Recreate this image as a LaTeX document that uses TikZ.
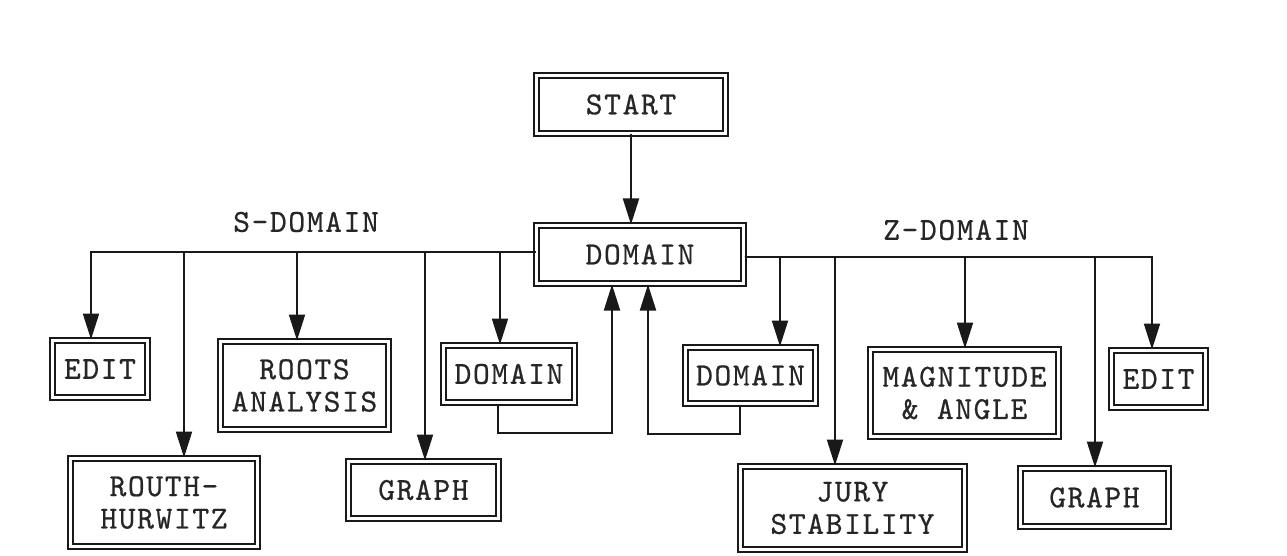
\documentclass[tikz,border=0pt]{standalone}
\usepackage{fontspec}
\usetikzlibrary{arrows.meta,calc}
\newfontfamily\courfont{lmmono10-regular.otf}[LetterSpace=5,FakeBold=0.6]
\newcommand{\boxfont}{\courfont\fontsize{16pt}{16.2pt}\selectfont}
\tikzset{
 box/.style={draw=black!90, double=white, double distance=1.5pt, line width=1pt, inner sep=0pt, align=center, font=\boxfont, text=black!85},
 conn/.style={draw=black!90, line width=1pt},
 arr/.style={conn, -{Triangle[length=13pt,width=8pt]}},
 lbl/.style={font=\boxfont, text=black!85, inner sep=0pt},
}
\begin{document}
\begin{tikzpicture}[x=0.5pt,y=-0.5pt]
\useasboundingbox (0,0) rectangle (1287,556);
\fill[white] (0,0) rectangle (1287,556);
% boxes
\node[box, minimum width=94.5pt, minimum height=29pt] (start) at (631,104.5) {START};
\node[box, minimum width=103.5pt, minimum height=29pt] (dom) at (640,254.5) {DOMAIN};
\node[box, minimum width=47.5pt, minimum height=28.5pt] (edits) at (100,369) {EDIT};
\node[box, minimum width=84pt, minimum height=44pt] (roots) at (304.5,385.5) {ROOTS\\ANALYSIS};
\node[box, minimum width=93.5pt, minimum height=44pt] (routh) at (164,502.5) {ROUTH-\\HURWITZ};
\node[box, minimum width=75pt, minimum height=28.5pt] (graphs) at (423.5,490) {GRAPH};
\node[box, minimum width=65.5pt, minimum height=28.5pt] (doms) at (509,374) {DOMAIN};
\node[box, minimum width=65pt, minimum height=28pt] (domz) at (750.5,375.5) {DOMAIN};
\node[box, minimum width=112pt, minimum height=41.5pt] (jury) at (852.5,508) {JURY\\STABILITY};
\node[box, minimum width=94pt, minimum height=43.5pt] (mag) at (964.5,393) {MAGNITUDE\\\& ANGLE};
\node[box, minimum width=47pt, minimum height=28.5pt] (editz) at (1158.5,379) {EDIT};
\node[box, minimum width=74pt, minimum height=29pt] (graphz) at (1094.5,497.5) {GRAPH};
% labels
\node[lbl] (slab) at (306,222) {S-DOMAIN};
\node[lbl] (zlab) at (956,230) {Z-DOMAIN};
% bus levels
\coordinate (lbus) at (0,252);
\coordinate (rbus) at (0,257);
\coordinate (l1) at (0,433);
\coordinate (l2) at (0,434);
% drop points
\coordinate (d1) at ($(edits.north)+(-9,0)$);
\coordinate (d2) at ($(routh.north)+(20,0)$);
\coordinate (d3) at ($(roots.north)+(-7.5,0)$);
\coordinate (d4) at ($(graphs.north)+(1.5,0)$);
\coordinate (d5) at ($(doms.north)+(-9,0)$);
\coordinate (e1) at ($(domz.north)+(29.5,0)$);
\coordinate (e2) at ($(jury.north)+(-17.5,0)$);
\coordinate (e3) at ($(mag.north)+(0.5,0)$);
\coordinate (e4) at ($(graphz.north)+(0.5,0)$);
\coordinate (e5) at ($(editz.north)+(-6.5,0)$);
% start to domain
\draw[arr] (start.south) -- (start.south |- dom.north);
% left bus
\foreach \d in {d1,d2,d3,d4,d5}{\draw[arr] (dom.west |- lbus) -| (\d);}
% right bus
\foreach \d in {e1,e2,e3,e4,e5}{\draw[arr] (dom.east |- rbus) -| (\d);}
% return loops
\draw[arr] ($(doms.south)+(-11,0)$) coordinate (a1) -- (a1 |- l1) -| ($(dom.south)+(-28,0)$);
\draw[arr] ($(domz.south)+(-10.5,0)$) coordinate (a2) -- (a2 |- l2) -| ($(dom.south)+(8,0)$);
\end{tikzpicture}
\end{document}
